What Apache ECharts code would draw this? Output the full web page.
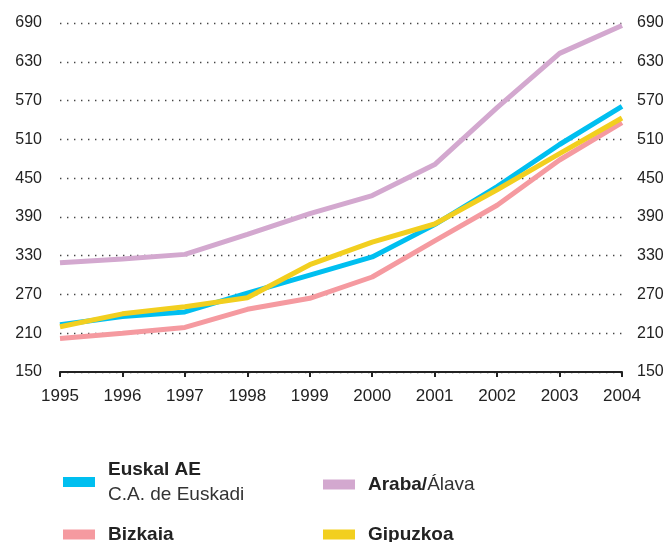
<!DOCTYPE html>
<html>
<head>
<meta charset="utf-8">
<script src="https://cdn.jsdelivr.net/npm/echarts@6/dist/echarts.min.js"></script>
<style>
  html, body { margin: 0; padding: 0; background: #fff; }
  #chart { width: 664px; height: 542px; }
</style>
</head>
<body>
<div id="chart"></div>
<script>
const years = ['1995', '1996', '1997', '1998', '1999', '2000', '2001', '2002', '2003', '2004']
const araba = [319, 325, 332, 363, 395, 423, 471, 559, 643, 686]
const bizkaia = [202, 210, 219, 247, 264, 297, 353, 408, 478, 536]
const euskal = [223, 236, 243, 272, 300, 328, 378, 437, 502, 561]
const gipuzkoa = [220, 240, 251, 265, 316, 351, 379, 432, 488, 543]

const font = 'Liberation Sans, Arial, sans-serif'
const colors = {
  euskal: '#00bff0',
  bizkaia: '#f59aa0',
  araba: '#d3a8cf',
  gipuzkoa: '#f2cf1f',
}

const chart = echarts.init(document.getElementById('chart'))

const yAxisBase = {
  type: 'value',
  min: 150,
  max: 690,
  interval: 60,
  axisLine: { show: false },
  axisTick: { show: false },
  axisLabel: { color: '#222', fontSize: 16, fontFamily: font },
}

function legendItem(name, left, top, formatter) {
  return {
    data: [name],
    left: left,
    top: top,
    icon: 'rect',
    itemWidth: 32,
    itemHeight: 10,
    itemGap: 0,
    formatter: formatter,
    textStyle: {
      fontFamily: font,
      padding: [0, 0, 0, 8],
      rich: {
        b: { fontSize: 19, fontWeight: 'bold', color: '#222', fontFamily: font, lineHeight: 25 },
        n: { fontSize: 19, color: '#333', fontFamily: font, lineHeight: 25 },
      },
    },
  }
}

chart.setOption({
  animation: false,
  backgroundColor: '#fff',
  grid: { left: 60, right: 42, top: 23, bottom: 170, outerBoundsMode: 'none', containLabel: false },
  xAxis: {
    type: 'category',
    boundaryGap: false,
    data: years,
    axisLine: { lineStyle: { color: '#222', width: 2 } },
    axisTick: { length: 5, lineStyle: { color: '#222', width: 2 } },
    axisLabel: { color: '#222', fontSize: 17, fontFamily: font, margin: 16 },
  },
  yAxis: [
    {
      ...yAxisBase,
      position: 'left',
      axisLabel: { ...yAxisBase.axisLabel, margin: 18 },
      splitLine: { show: true, lineStyle: { type: [1.4, 5.6], color: '#444', width: 1.4 } },
    },
    {
      ...yAxisBase,
      position: 'right',
      axisLabel: { ...yAxisBase.axisLabel, margin: 15 },
      splitLine: { show: false },
    },
  ],
  legend: [
    legendItem('Euskal AE', 58, 455, '{b|Euskal AE}\n{n|C.A. de Euskadi}'),
    legendItem('Bizkaia', 58, 520, '{b|Bizkaia}'),
    legendItem('Araba/Álava', 318, 470, '{b|Araba/}{n|Álava}'),
    legendItem('Gipuzkoa', 318, 520, '{b|Gipuzkoa}'),
  ],
  series: [
    { name: 'Araba/Álava', data: araba, color: colors.araba },
    { name: 'Bizkaia', data: bizkaia, color: colors.bizkaia },
    { name: 'Euskal AE', data: euskal, color: colors.euskal },
    { name: 'Gipuzkoa', data: gipuzkoa, color: colors.gipuzkoa },
  ].map((s) => ({
    ...s,
    type: 'line',
    symbol: 'none',
    lineStyle: { width: 5, color: s.color },
  })),
})
</script>
</body>
</html>
